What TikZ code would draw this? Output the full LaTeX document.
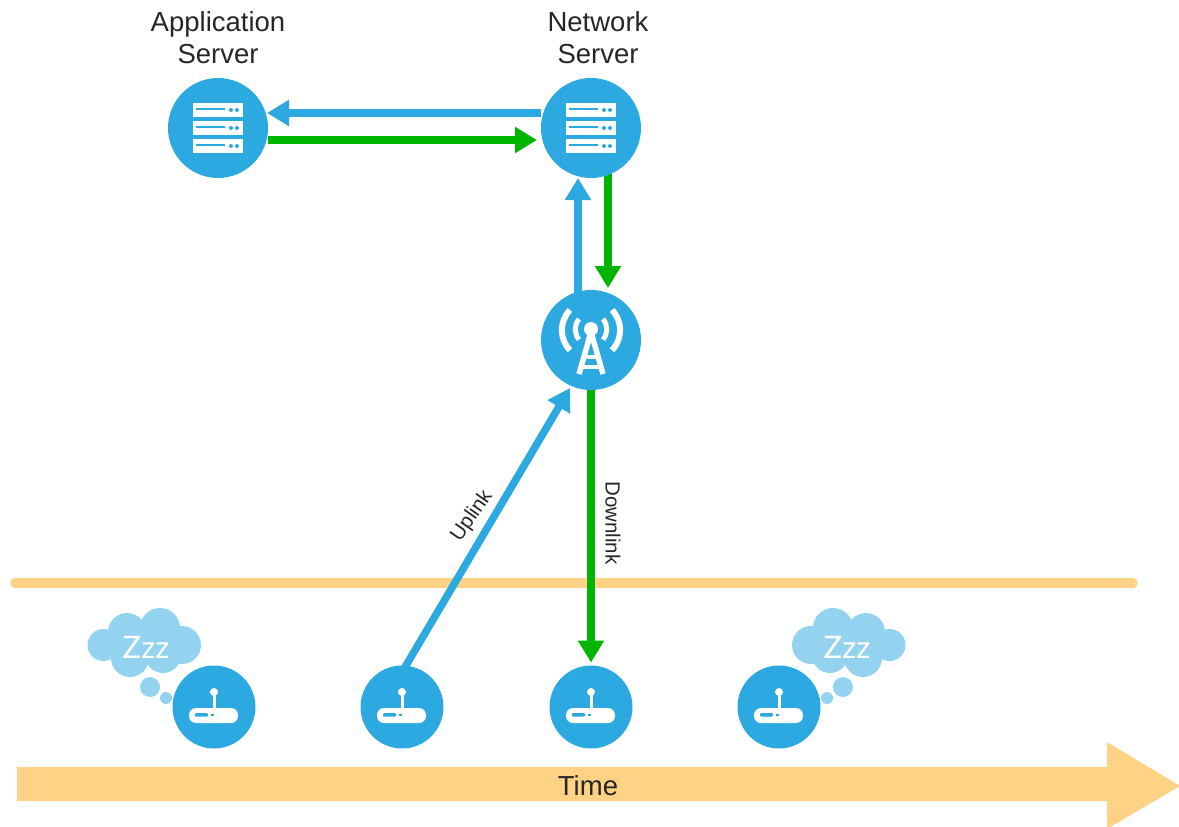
\documentclass[tikz,border=0pt]{standalone}
\usepackage{fontspec}
\setmainfont{Liberation Sans}
\newfontfamily\zzzfont{Lato}
\usetikzlibrary{arrows.meta}
\usetikzlibrary{backgrounds}
\definecolor{lblue}{HTML}{2DA9E1}
\definecolor{lgreen}{HTML}{00B400}
\definecolor{lorange}{HTML}{FFD285}
\definecolor{lcloud}{HTML}{93D3F0}
\tikzset{
 bignode/.style={circle, fill=lblue, inner sep=0, outer sep=0, minimum size=100pt},
 devnode/.style={circle, fill=lblue, inner sep=0, outer sep=0, minimum size=83pt},
 uplink/.style={draw=lblue, line width=7.5pt, -{Triangle[length=22pt,width=25pt]}},
 downlink/.style={draw=lgreen, line width=7.5pt, -{Triangle[length=22pt,width=25pt]}},
 srvlabel/.style={align=center, text=black!85, font=\fontsize{27.5}{32}\selectfont},
 linklabel/.style={text=black!85, inner sep=0, font=\fontsize{20.5}{24}\selectfont},
 srvicon/.pic={
  \foreach \y in {-25,-7,11} {
   \fill[white] (-25,\y) rectangle (25,\y+14);
   \draw[lblue, line width=1.3pt] (-22,\y+6) --++(29,0);
   \fill[lblue] (13,\y+7) circle (2) (19,\y+7) circle (2);
  }
 },
 towericon/.pic={
  \fill[white] (0,-11) circle (7);
  \draw[white, line width=5.5pt, line join=miter] (-12,34) -- (0,-8) -- (12,34);
  \draw[white, line width=3.5pt] (-7,17) --++(14,0) (-9,27) --++(18,0);
  \draw[white, line width=6pt] (-21,-30) arc (224:136:29) (21,-30) arc (-44:44:29);
  \draw[white, line width=5pt] (-12,-21) arc (220:140:16) (12,-21) arc (-40:40:16);
 },
 devicon/.pic={
  \fill[white, rounded corners=7pt] (-25,1) rectangle (24,16);
  \draw[white, line width=3pt] (0,-14) --++(0,16);
  \fill[white] (0,-15) circle (4);
  \fill[lblue, rounded corners=1pt] (-19,6) rectangle (-6,9.5);
  \fill[lblue] (-3,6.5) rectangle (0,9);
 },
 sleepcloud/.pic={
  \foreach \cx/\cy/\cr in {-110.5/-62/16, -87/-75/19, -54/-79/20, -32/-62/19, -84/-49/19, -51/-52/18} {
   \fill[lcloud] (\cx,\cy) circle (\cr);
  }
  \fill[lcloud] (-100,-72) rectangle (-42,-50);
  \fill[lcloud] (-64,-20) circle (10);
  \fill[lcloud] (-48,-9) circle (6);
  \node[text=white, inner sep=0, font=\zzzfont\fontsize{31}{36}\selectfont] (zzz) at (-68,-60) {Zzz};
 }
}
\begin{document}
\begin{tikzpicture}[x=1pt, y=-1pt]
\useasboundingbox (0,0) rectangle (1179,827);
\foreach \name/\x/\y in {appsrv/218/128, netsrv/591/128, gateway/591/340} {
 \node[bignode] (\name) at (\x,\y) {};
}
\foreach \name/\x in {devA/214, devB/402, devC/591, devD/779} {
 \node[devnode] (\name) at (\x,707) {};
 \pic at (\name) {devicon};
}
\pic at (appsrv) {srvicon};
\pic at (netsrv) {srvicon};
\pic at (gateway) {towericon};
\pic at (devA) {sleepcloud};
\pic[xscale=-1] at (devD) {sleepcloud};
\node[srvlabel] (applabel) at (218,38) {Application\\Server};
\node[srvlabel] (netlabel) at (598,38) {Network\\Server};
\node[linklabel, rotate=55] (uplabel) at (472,516) {Uplink};
\node[linklabel, rotate=-90] (downlabel) at (613,523) {Downlink};
\begin{pgfonlayer}{background}
\fill[lorange] (17,767) -- (1107,767) -- (1107,742) -- (1180,786) -- (1107,829) -- (1107,801) -- (17,801) -- cycle;
\draw[lorange, line width=9.5pt, line cap=round] (15,583) -- (1133,583);
\draw[uplink] ([yshift=15pt]netsrv.west) -- ([xshift=-1pt,yshift=15pt]appsrv.east);
\draw[downlink] ([yshift=-12pt]appsrv.east) -- ([xshift=-4pt,yshift=-12pt]netsrv.west);
\draw[uplink] ([xshift=-13pt,yshift=-5pt]gateway.north) -- ([xshift=-13pt]netsrv.south);
\draw[downlink] ([xshift=17pt,yshift=5pt]netsrv.south) -- ([xshift=17pt,yshift=2pt]gateway.north);
\draw[uplink] ([xshift=1pt,yshift=-5pt]devB.north) -- ([xshift=-21pt,yshift=2pt]gateway.south);
\draw[downlink] (gateway.south) -- ([yshift=3pt]devC.north);
\end{pgfonlayer}
\node[inner sep=0, text=black!85, font=\fontsize{27.5}{32}\selectfont] (timelabel) at (588,786) {Time};
\end{tikzpicture}
\end{document}
